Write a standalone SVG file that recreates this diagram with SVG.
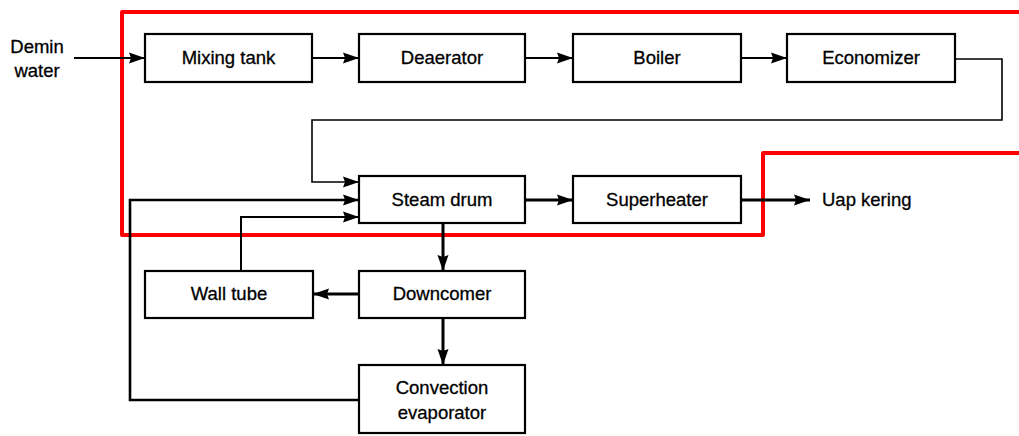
<svg xmlns="http://www.w3.org/2000/svg" width="1019" height="436" viewBox="0 0 1019 436">
<style>
.box{fill:#fff;stroke:#000;stroke-width:2.2}
.lbl{font-family:"Liberation Sans",Arial,sans-serif;font-size:18.5px;fill:#000;text-anchor:middle;stroke:#000;stroke-width:0.3}
.free{font-family:"Liberation Sans",Arial,sans-serif;font-size:18.5px;fill:#000;stroke:#000;stroke-width:0.3}
.c{fill:none;stroke:#000;stroke-width:2}
.t{stroke-width:3}
.a{marker-end:url(#ah)}
</style>
<defs>
<marker id="ah" markerUnits="userSpaceOnUse" markerWidth="16" markerHeight="12" refX="16" refY="6" orient="auto">
<path d="M0,0.5 L16,6 L0,11.5 L2,6 z" fill="#000"/>
</marker>
</defs>
<rect width="1019" height="436" fill="#fff"/>
<path d="M1019,12 H122 V235 H763 V153 H1019" fill="none" stroke="#f00" stroke-width="4" stroke-linejoin="round"/>
<g id="connectors">
<path class="c a" d="M74,58 H145"/>
<path class="c a" d="M312,58 H359"/>
<path class="c a" d="M525,58 H573"/>
<path class="c a" d="M741,58 H787"/>
<path class="c a" d="M955,59 H1002 V120 H312 V182 H359" style="stroke-width:1.6"/>
<path class="c t a" d="M359,400 H130 V200 H359" style="stroke-width:2.6"/>
<path class="c a" d="M241,271 V217 H359"/>
<path class="c t a" d="M525,200 H573"/>
<path class="c t a" d="M741,200 H810"/>
<path class="c t a" d="M443,223 V271"/>
<path class="c t a" d="M359,294 H313"/>
<path class="c t a" d="M443,318 V365"/>
</g>
<g id="demin"><text class="lbl" x="37" y="53">Demin</text><text class="lbl" x="37" y="77">water</text></g>
<g id="mixing"><rect class="box" x="145" y="34" width="167" height="48"/><text class="lbl" x="228.5" y="64">Mixing tank</text></g>
<g id="deaerator"><rect class="box" x="359" y="34" width="166" height="48"/><text class="lbl" x="442" y="64">Deaerator</text></g>
<g id="boiler"><rect class="box" x="573" y="34" width="168" height="48"/><text class="lbl" x="657" y="64">Boiler</text></g>
<g id="economizer"><rect class="box" x="787" y="34" width="168" height="48"/><text class="lbl" x="871" y="64">Economizer</text></g>
<g id="steamdrum"><rect class="box" x="359" y="176" width="166" height="47"/><text class="lbl" x="442" y="206">Steam drum</text></g>
<g id="superheater"><rect class="box" x="573" y="176" width="168" height="47"/><text class="lbl" x="657" y="206">Superheater</text></g>
<g id="uap"><text class="free" x="822" y="206">Uap kering</text></g>
<g id="walltube"><rect class="box" x="145" y="271" width="168" height="47"/><text class="lbl" x="229" y="300">Wall tube</text></g>
<g id="downcomer"><rect class="box" x="359" y="271" width="166" height="47"/><text class="lbl" x="442" y="300">Downcomer</text></g>
<g id="convection"><rect class="box" x="359" y="365" width="166" height="68"/><text class="lbl" x="442" y="394">Convection</text><text class="lbl" x="442" y="419">evaporator</text></g>
</svg>
